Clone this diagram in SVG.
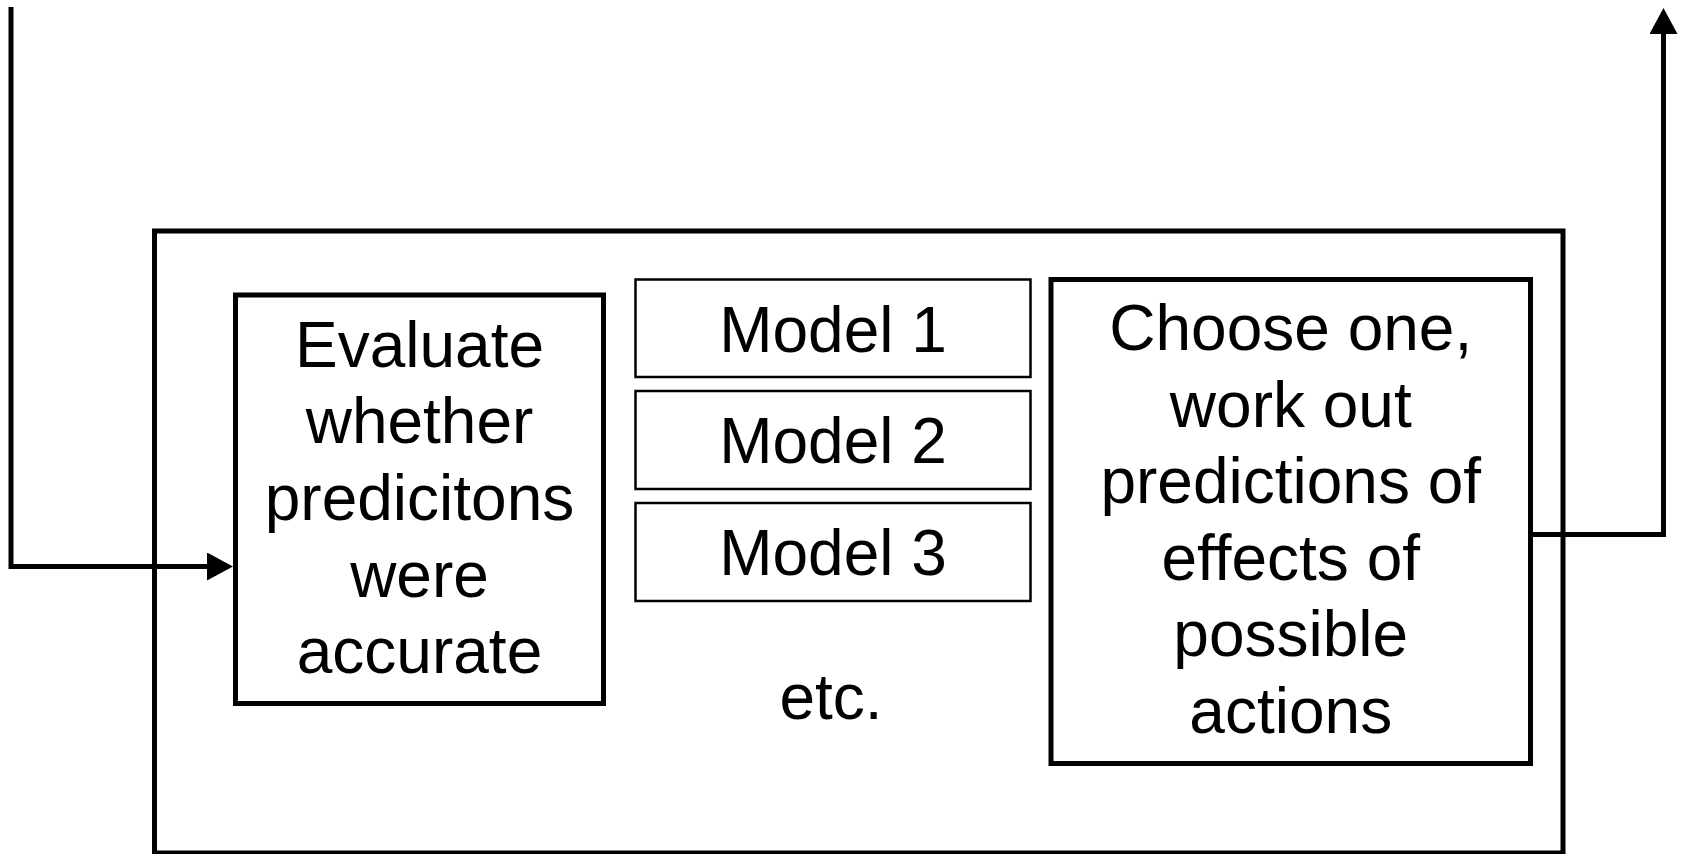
<svg xmlns="http://www.w3.org/2000/svg" width="1682" height="854" viewBox="0 0 1682 854">
<style>
.thick{fill:#fff;stroke:#000;stroke-width:5}
.thin{fill:#fff;stroke:#000;stroke-width:2.5}
.conn{fill:none;stroke:#000;stroke-width:5}
text{font-family:"Liberation Sans",Arial,sans-serif;font-size:64px;fill:#000;text-anchor:middle}
</style>
<defs>
<marker id="ah" markerUnits="userSpaceOnUse" markerWidth="26" markerHeight="28" viewBox="0 0 26 28" refX="1" refY="14" orient="auto">
<path d="M0,0 L26,14 L0,28 Z" fill="#000"/>
</marker>
</defs>
<rect width="1682" height="854" fill="#fff"/>
<g id="outer"><rect class="thick" x="154.5" y="231" width="1408.5" height="622"/></g>
<g id="evaluate">
<rect class="thick" x="235.5" y="295" width="368" height="408.5"/>
<text x="419.5" y="366.7">Evaluate</text>
<text x="419.5" y="443.3">whether</text>
<text x="419.5" y="519.9">predicitons</text>
<text x="419.5" y="596.5">were</text>
<text x="419.5" y="673">accurate</text>
</g>
<g id="model1"><rect class="thin" x="635.5" y="279.5" width="395" height="97.5"/><text x="833" y="351.5">Model 1</text></g>
<g id="model2"><rect class="thin" x="635.5" y="391" width="395" height="98"/><text x="833" y="463">Model 2</text></g>
<g id="model3"><rect class="thin" x="635.5" y="503" width="395" height="98"/><text x="833" y="575">Model 3</text></g>
<g id="etc"><text x="831" y="718.7">etc.</text></g>
<g id="choose">
<rect class="thick" x="1051" y="279.5" width="479.5" height="484"/>
<text x="1290.75" y="350">Choose one,</text>
<text x="1290.75" y="426.5">work out</text>
<text x="1290.75" y="503">predictions of</text>
<text x="1290.75" y="579.5">effects of</text>
<text x="1290.75" y="656">possible</text>
<text x="1290.75" y="732.7">actions</text>
</g>
<g id="connectors">
<path class="conn" d="M11,7 V566.5 H208" marker-end="url(#ah)"/>
<path class="conn" d="M1530.5,534.5 H1663.5 V33" marker-end="url(#ah)"/>
</g>
</svg>
